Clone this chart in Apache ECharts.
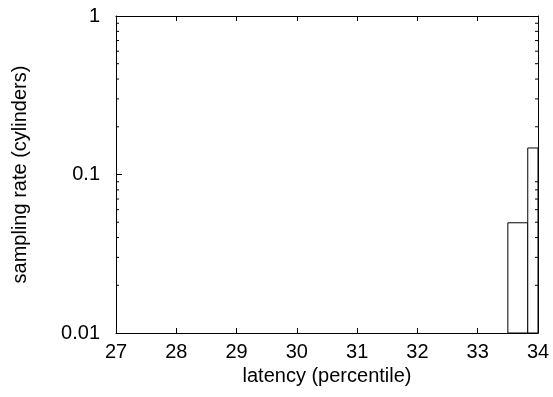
<!DOCTYPE html>
<html>
<head>
<meta charset="utf-8">
<script src="https://cdn.jsdelivr.net/npm/echarts@6/dist/echarts.min.js"></script>
<style>
    html, body { margin: 0; padding: 0; background: #fff; }
    #chart { width: 553px; height: 397px; }
</style>
</head>
<body>
<div id="chart"></div>
<script>
// histogram bins: [start, end] in percentile, and sampling rate per bin
var binStarts = [33.5, 33.83];
var binEnds = [33.83, 34];
var binValues = [0.0496, 0.147];

// log-axis minor tick positions (2..9 per decade)
var minorTicks = [0.02, 0.03, 0.04, 0.05, 0.06, 0.07, 0.08, 0.09,
                  0.2, 0.3, 0.4, 0.5, 0.6, 0.7, 0.8, 0.9];

var xMin = 27, xMax = 34;
var yMin = 0.01, yMax = 1;
var font = 'Liberation Sans, Arial, Helvetica, sans-serif';
var fs = 20;

var chart = echarts.init(document.getElementById('chart'));

var binData = [];
for (var i = 0; i < binStarts.length; i++) {
    binData.push([binStarts[i], binEnds[i], binValues[i]]);
}

var lineStyle = { color: '#000', width: 1 };

var option = {
    backgroundColor: '#fff',
    animation: false,
    grid: { left: 116, right: 15, top: 16, bottom: 64 },
    xAxis: [{
        type: 'value',
        min: xMin, max: xMax, interval: 1,
        name: 'latency (percentile)',
        nameLocation: 'middle',
        nameGap: 30,
        nameTextStyle: { color: '#000', fontSize: fs, fontFamily: font },
        axisLine: { lineStyle: lineStyle },
        axisTick: { inside: true, length: 5, lineStyle: lineStyle },
        axisLabel: { color: '#000', fontSize: fs, fontFamily: font, margin: 9 },
        splitLine: { show: false }
    }, {
        type: 'value',
        position: 'top',
        min: xMin, max: xMax, interval: 1,
        axisLine: { lineStyle: lineStyle },
        axisTick: { inside: true, length: 5, lineStyle: lineStyle },
        axisLabel: { show: false },
        splitLine: { show: false }
    }],
    yAxis: [{
        type: 'log',
        min: yMin, max: yMax,
        name: 'sampling rate (cylinders)',
        nameLocation: 'middle',
        nameGap: 86,
        nameTextStyle: { color: '#000', fontSize: fs, fontFamily: font },
        axisLine: { show: true, lineStyle: lineStyle },
        axisTick: { show: true, inside: true, length: 6, lineStyle: lineStyle },
        axisLabel: { color: '#000', fontSize: fs, fontFamily: font, margin: 16 },
        splitLine: { show: false }
    }, {
        type: 'log',
        position: 'right',
        min: yMin, max: yMax,
        axisLine: { show: true, lineStyle: lineStyle },
        axisTick: { show: true, inside: true, length: 6, lineStyle: lineStyle },
        axisLabel: { show: false },
        splitLine: { show: false }
    }],
    series: [{
        type: 'custom',
        xAxisIndex: 0,
        yAxisIndex: 0,
        data: binData,
        renderItem: function (params, api) {
            var p0 = api.coord([api.value(0), api.value(2)]);
            var p1 = api.coord([api.value(1), yMin]);
            return {
                type: 'rect',
                shape: { x: p0[0], y: p0[1], width: p1[0] - p0[0], height: p1[1] - p0[1] },
                style: { fill: '#fff', stroke: '#000', lineWidth: 1 }
            };
        }
    }, {
        type: 'custom',
        xAxisIndex: 0,
        yAxisIndex: 0,
        silent: true,
        data: minorTicks,
        renderItem: function (params, api) {
            var l = api.coord([xMin, api.value(0)]);
            var r = api.coord([xMax, api.value(0)]);
            return {
                type: 'group',
                children: [{
                    type: 'line',
                    shape: { x1: l[0], y1: l[1], x2: l[0] + 3, y2: l[1] },
                    style: { stroke: '#000', lineWidth: 1 }
                }, {
                    type: 'line',
                    shape: { x1: r[0], y1: r[1], x2: r[0] - 3, y2: r[1] },
                    style: { stroke: '#000', lineWidth: 1 }
                }]
            };
        }
    }]
};

chart.setOption(option);
</script>
</body>
</html>
